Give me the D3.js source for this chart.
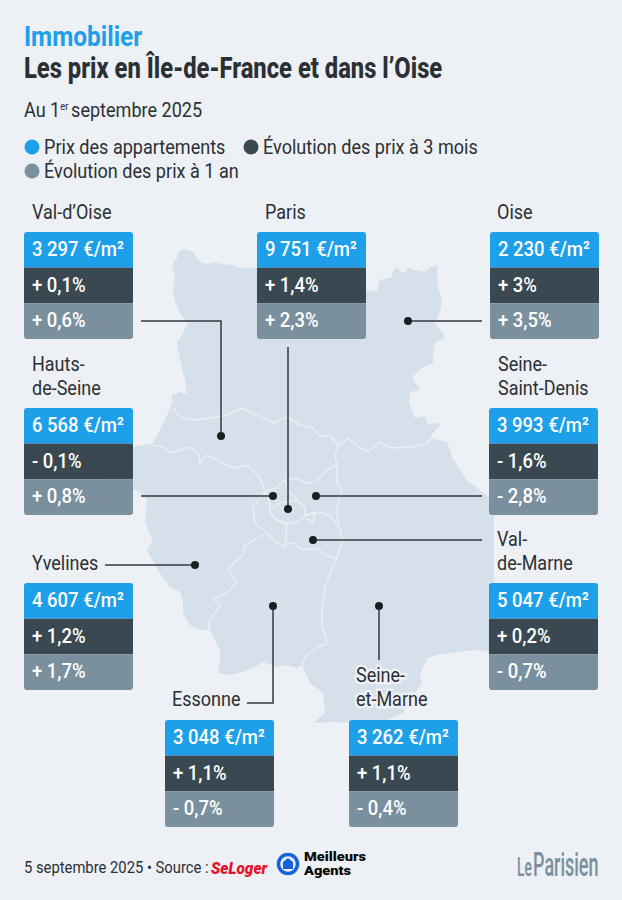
<!DOCTYPE html>
<html lang="fr">
<head>
<meta charset="utf-8">
<title>Immobilier</title>
<script src="https://cdn.jsdelivr.net/npm/d3@7"></script>
<style>
  body { margin: 0; background: #edf0f4; }
  svg { display: block; }
  text { font-family: Roboto, sans-serif; }
</style>
</head>
<body>
<div class="canvas"></div>
<script>
// donnees
const departements = ["Val-d’Oise", "Paris", "Oise", "Hauts-\nde-Seine", "Seine-\nSaint-Denis", "Yvelines", "Val-\nde-Marne", "Essonne", "Seine-\net-Marne"];
const prixM2 = [3297, 9751, 2230, 6568, 3993, 4607, 5047, 3048, 3262];
const evol3mois = [0.1, 1.4, 3, -0.1, -1.6, 1.2, 0.2, 1.1, 1.1];
const evol1an = [0.6, 2.3, 3.5, 0.8, -2.8, 1.7, -0.7, -0.7, -0.4];
const legendeLabels = ["Prix des appartements", "Évolution des prix à 3 mois", "Évolution des prix à 1 an"];
const couleurs = ["#1d9fe9", "#3a4851", "#7a909e"];

// contours de la carte (trace a la main, en pixels de la maquette)
const contourIdf = [[172,265],[177,258],[178,252],[184,249],[193,252],[197,258],[202,263],[208,264],[213,262],[222,264],[232,265],[240,268],[257,268],[300,280],[340,285],[367,290],[377,292],[380,280],[392,277],[393,271],[397,267],[401,272],[405,272],[409,267],[413,270],[425,272],[431,267],[438,265],[437,276],[438,287],[442,300],[440,312],[435,323],[441,331],[445,338],[435,343],[433,353],[433,363],[422,368],[412,377],[416,384],[420,390],[410,392],[409,403],[415,418],[425,416],[428,424],[442,423],[433,433],[430,438],[447,442],[450,450],[452,457],[460,470],[467,480],[477,488],[489,497],[494,515],[494,585],[500,640],[490,652],[480,650],[465,651],[450,653],[437,655],[427,658],[422,670],[420,675],[422,683],[410,700],[403,713],[377,724],[333,722],[313,723],[325,713],[323,693],[310,683],[302,665],[297,668],[287,665],[277,667],[263,662],[253,668],[243,672],[230,675],[218,673],[220,660],[220,650],[215,640],[210,630],[200,630],[190,625],[183,613],[183,600],[180,592],[170,587],[163,578],[155,565],[147,550],[153,540],[148,530],[145,520],[147,500],[137,490],[100,490],[100,447],[133,447],[153,443],[165,420],[172,403],[172,395],[180,392],[187,395],[185,380],[180,360],[177,343],[183,333],[188,323],[180,313],[175,302],[173,290],[175,277]];
const frontieres = [
  // Oise / Val-d'Oise / Seine-et-Marne
  [[173,408],[180,417],[193,420],[210,418],[227,415],[242,408],[252,413],[267,420],[273,423],[287,417],[300,425],[313,428],[320,437],[330,435],[338,445],[343,442],[348,438],[360,448],[368,452],[380,442],[390,448],[410,447],[428,443],[433,433]],
  // Val-d'Oise / Yvelines
  [[150,445],[163,447],[170,453],[190,447],[198,453],[200,463],[207,455],[223,463],[233,468],[248,465],[260,478],[265,492]],
  // Hauts-de-Seine
  [[265,492],[253,507],[255,523],[267,533],[277,543],[285,547]],
  [[265,492],[270,503],[270,513],[277,520],[287,524],[285,547]],
  // Seine-Saint-Denis
  [[265,492],[277,487],[285,480],[295,478],[307,483],[315,482],[330,468],[337,465],[335,457],[338,445]],
  [[285,480],[288,490],[297,500]],
  [[337,465],[337,483],[342,490],[337,507],[338,523],[343,540],[337,557],[330,573],[325,587],[322,607],[322,627],[328,643],[313,650],[305,657],[302,665]],
  // Paris
  [[270,510],[280,503],[297,500],[305,507],[305,517],[297,522],[287,524],[277,520],[270,513]],
  // Val-de-Marne
  [[305,515],[317,512],[330,515],[337,525]],
  [[305,516],[315,513],[313,522],[307,519]],
  [[285,543],[293,543],[303,550],[317,548],[325,555],[333,558],[337,557]],
  // Yvelines / Essonne
  [[263,535],[245,545],[243,555],[237,560],[228,570],[237,582],[230,590],[220,597],[212,598],[220,605],[212,617],[208,623],[210,630]]
];

// emplacements des blocs et des filets
const blocsX = [24, 257, 490, 24, 489, 24, 489, 165, 349];
const blocsY = [232, 232, 232, 408, 408, 583, 583, 720, 720];
const nomsX = [32, 265, 497, 32, 498, 32, 497, 172, 356];
const nomsY = [219, 219, 219, 395, 395, 570, 570, 706, 706];
const filets = [
  [[141,321],[221,321],[221,436]],
  [[288,347],[288,509]],
  [[482,321],[408,321]],
  [[141,496],[273,496]],
  [[482,496],[316,496]],
  [[105,565],[195,565]],
  [[482,540],[313,540]],
  [[247,703],[273,703],[273,606]],
  [[379,660],[379,606]]
];

const fond = "#edf0f4", encre = "#2b3034";
const svg = d3.select(".canvas").append("svg").attr("width", 622).attr("height", 900);
svg.append("rect").attr("width", 622).attr("height", 900).attr("fill", fond);

// texte un peu condense (pas de police condensee installee)
const texte = (parent, x, y, str, size, weight, fill, k) => parent.append("text")
  .attr("transform", `translate(${x},${y}) scale(${k},1)`)
  .attr("font-size", size)
  .attr("font-weight", weight)
  .attr("fill", fill)
  .text(str);

// titres
texte(svg, 24, 46, "Immobilier", 28, 700, couleurs[0], 0.87);
texte(svg, 24, 78, "Les prix en Île-de-France et dans l’Oise", 29, 800, encre, 0.82);
const sous = texte(svg, 24, 117, "Au 1", 21, 400, encre, 0.86);
sous.append("tspan").attr("font-size", 11).attr("dy", -7).text("er");
sous.append("tspan").attr("dy", 7).attr("dx", 3).text("septembre 2025");

// legende
const legX = [32, 251, 32], legY = [147, 147, 171];
legendeLabels.forEach((d, i) => {
  svg.append("circle").attr("cx", legX[i]).attr("cy", legY[i]).attr("r", 7.5).attr("fill", couleurs[i]);
  texte(svg, legX[i] + 12, legY[i] + 6.5, d, 21, 400, encre, 0.86);
});

// carte
const ligne = d3.line();
svg.append("path").attr("d", ligne(contourIdf) + "Z").attr("fill", "#d5e0ea");
svg.append("g").selectAll("path").data(frontieres).join("path")
  .attr("d", ligne)
  .attr("fill", "none")
  .attr("stroke", "#e9eef3")
  .attr("stroke-width", 1.5)
  .attr("stroke-linejoin", "round");

// filets et points
const gFilets = svg.append("g");
gFilets.selectAll("path").data(filets).join("path")
  .attr("d", ligne)
  .attr("fill", "none")
  .attr("stroke", "#33393e")
  .attr("stroke-width", 1.5);

// le point est toujours au bout du filet
gFilets.selectAll("circle").data(filets).join("circle")
  .attr("cx", d => d[d.length - 1][0])
  .attr("cy", d => d[d.length - 1][1])
  .attr("r", 4)
  .attr("fill", "#1c1f22");

// blocs
const formatFr = d3.formatLocale({ decimal: ",", thousands: " ", grouping: [3], currency: ["", ""] });
const fmtPrix = formatFr.format(",d");
const fmtEvol = v => (v < 0 ? "- " : "+ ") + String(Math.abs(v)).replace(".", ",") + "%";

const rangs = d3.scaleBand().domain([0, 1, 2]).range([0, 107]);
const clipBloc = svg.append("defs");

departements.forEach((nom, i) => {
  const g = svg.append("g").attr("transform", `translate(${blocsX[i]},${blocsY[i]})`);
  clipBloc.append("clipPath").attr("id", `bloc${i}`)
    .append("rect").attr("width", 109).attr("height", rangs.range()[1]).attr("rx", 3);
  const lignes = [fmtPrix(prixM2[i]) + " €/m²", fmtEvol(evol3mois[i]), fmtEvol(evol1an[i])];
  g.append("g").attr("clip-path", `url(#bloc${i})`)
    .selectAll("rect").data(lignes).join("rect")
    .attr("y", (d, j) => rangs(j))
    .attr("width", 109)
    .attr("height", rangs.bandwidth())
    .attr("fill", (d, j) => couleurs[j]);
  lignes.forEach((l, j) => {
    texte(g, 8, rangs(j) + 24, l, 21, 500, "#fff", j === 0 ? 0.88 : 0.88);
  });

  // nom du departement, avec un halo couleur du fond
  const parts = nom.split("\n");
  parts.forEach((p, j) => {
    texte(svg, nomsX[i], nomsY[i] - (parts.length - 1 - j) * 24, p, 20, 400, encre, 0.9)
      .attr("stroke", fond).attr("stroke-width", 5).attr("paint-order", "stroke");
  });
});

// pied de page
texte(svg, 24, 873, "5 septembre 2025 • Source :", 17, 400, encre, 0.87);
texte(svg, 211, 874, "SeLoger", 16.5, 900, "#e8112d", 0.93).attr("font-style", "italic");
svg.append("circle").attr("cx", 288).attr("cy", 864).attr("r", 9.5)
  .attr("fill", "none").attr("stroke", "#1464e0").attr("stroke-width", 3.5);
svg.append("path").attr("fill", "#1464e0")
  .attr("d", d3.line()([[288,858],[293,862],[293,869],[283,869],[283,862]]) + "Z");
texte(svg, 304, 861, "Meilleurs", 12.5, 900, "#0a0a0a", 1.17);
texte(svg, 304, 875, "Agents", 12.5, 900, "#0a0a0a", 1.17);
texte(svg, 517, 876, "Le", 25, 500, "#7a909e", 0.55);
texte(svg, 533, 876, "Parisien", 33, 500, "#7a909e", 0.545);
</script>
</body>
</html>
